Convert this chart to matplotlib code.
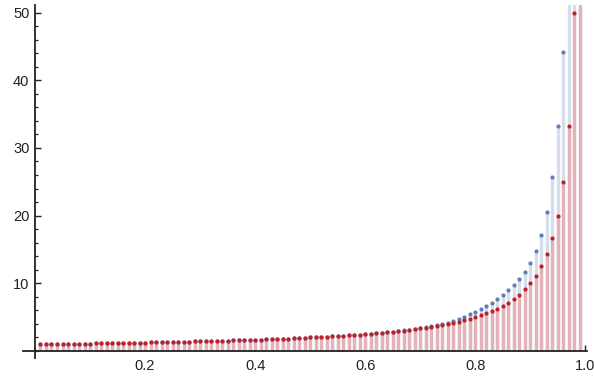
import matplotlib.pyplot as plt
from matplotlib.ticker import MultipleLocator, FixedLocator

# x positions 0.01 .. 0.99
x_vals = [round(0.01 * i, 2) for i in range(1, 100)]

red_vals = [
    1.01, 1.02, 1.03, 1.04, 1.05, 1.06, 1.08, 1.09, 1.10, 1.11,
    1.12, 1.14, 1.15, 1.16, 1.18, 1.19, 1.20, 1.22, 1.23, 1.25,
    1.27, 1.28, 1.30, 1.32, 1.33, 1.35, 1.37, 1.39, 1.41, 1.43,
    1.45, 1.47, 1.49, 1.52, 1.54, 1.56, 1.59, 1.61, 1.64, 1.67,
    1.69, 1.72, 1.75, 1.79, 1.82, 1.85, 1.89, 1.92, 1.96, 2.00,
    2.04, 2.08, 2.13, 2.17, 2.22, 2.27, 2.33, 2.38, 2.44, 2.50,
    2.56, 2.63, 2.70, 2.78, 2.86, 2.94, 3.03, 3.13, 3.23, 3.33,
    3.45, 3.57, 3.70, 3.85, 4.00, 4.17, 4.35, 4.55, 4.76, 5.00,
    5.26, 5.56, 5.88, 6.25, 6.67, 7.14, 7.69, 8.33, 9.09, 10.0,
    11.1, 12.5, 14.3, 16.7, 20.0, 25.0, 33.3, 50.0, 100.0,
]

blue_vals = [
    1.01, 1.02, 1.03, 1.04, 1.05, 1.06, 1.08, 1.09, 1.10, 1.11,
    1.12, 1.14, 1.15, 1.16, 1.18, 1.19, 1.20, 1.22, 1.23, 1.25,
    1.27, 1.28, 1.30, 1.32, 1.33, 1.35, 1.37, 1.39, 1.41, 1.43,
    1.45, 1.47, 1.49, 1.52, 1.54, 1.56, 1.59, 1.61, 1.64, 1.67,
    1.69, 1.72, 1.75, 1.79, 1.82, 1.85, 1.89, 1.92, 1.96, 2.00,
    2.04, 2.08, 2.13, 2.17, 2.22, 2.27, 2.33, 2.38, 2.44, 2.50,
    2.56, 2.63, 2.71, 2.79, 2.87, 2.96, 3.05, 3.16, 3.27, 3.38,
    3.51, 3.65, 3.80, 3.97, 4.16, 4.40, 4.72, 5.07, 5.40, 5.75,
    6.15, 6.6, 7.1, 7.7, 8.3, 9.0, 9.8, 10.7, 11.7, 13.0,
    14.8, 17.2, 20.6, 25.7, 33.3, 44.2, 62.0, 100.0, 200.0,
]

x_ticks = [0.2, 0.4, 0.6, 0.8, 1.0]
x_labels = ['0.2', '0.4', '0.6', '0.8', '1.0']
y_ticks = [10, 20, 30, 40, 50]
y_labels = ['10', '20', '30', '40', '50']

plt.rcParams['font.family'] = ['Liberation Sans', 'DejaVu Sans']

fig = plt.figure(figsize=(5.94, 3.77), dpi=100)
ax = fig.add_axes([0.0387, 0.0504, 0.950, 0.936])

# filling to axis
ax.vlines(x_vals, 0, blue_vals, color='#d6deeb', linewidth=2.4, zorder=1)
ax.vlines(x_vals, 0, red_vals, color='#e4b2b9', linewidth=2.4, zorder=2)
ax.scatter(x_vals, blue_vals, s=9, color='#5e81b5', zorder=3, linewidths=0)
ax.scatter(x_vals, red_vals, s=9, color='#c0202a', zorder=4, linewidths=0)

ax.set_xlim(-0.0218, 1.0036)
ax.set_ylim(-1.03, 51.1)

for s in ['top', 'right']:
    ax.spines[s].set_visible(False)
ax.spines['left'].set_position(('data', 0))
ax.spines['bottom'].set_position(('data', 0))
for s in ['left', 'bottom']:
    ax.spines[s].set_linewidth(1.3)
    ax.spines[s].set_color('#222222')

ax.xaxis.set_major_locator(FixedLocator(x_ticks))
ax.set_xticklabels(x_labels)
ax.xaxis.set_minor_locator(MultipleLocator(0.05))
ax.yaxis.set_major_locator(FixedLocator(y_ticks))
ax.set_yticklabels(y_labels)
ax.yaxis.set_minor_locator(MultipleLocator(2))

ax.tick_params(which='major', direction='in', length=4, width=1, color='#222222',
               labelsize=10.5, labelcolor='#222222')
ax.tick_params(which='minor', direction='in', length=2.5, width=0.9, color='#222222')
ax.tick_params(axis='x', which='major', pad=6)
ax.tick_params(axis='y', which='major', pad=4)

fig.savefig('out.png', dpi=100)
